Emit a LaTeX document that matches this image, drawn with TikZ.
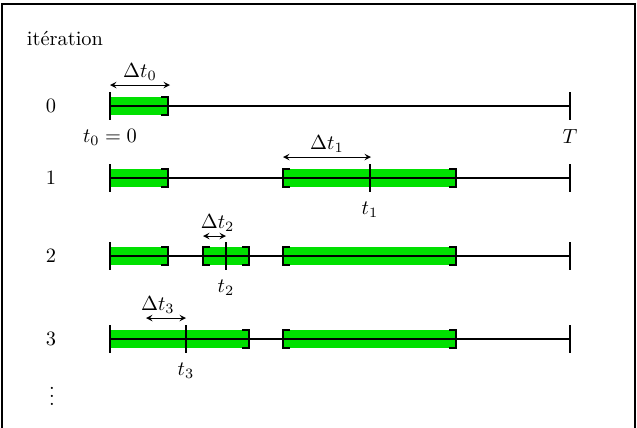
\documentclass[tikz,border=0pt]{standalone}
\usepackage{amssymb,amsmath}
\usepackage{tikz}
\definecolor{vert}{RGB}{0,224,0}

\begin{document}
\begin{tikzpicture}[x=0.49pt,y=-0.49pt,
    zone/.style={fill=vert,draw=none},
    axe/.style={line width=0.6pt},
    marque/.style={line width=0.7pt},
    duree/.style={<->,>=stealth,line width=0.4pt}]
\useasboundingbox (0,0) rectangle (637,428);
% Frame
\draw[line width=1.2pt] (2,450) -- (2,4) -- (635,4) -- (635,450);

% Iteration numbers
\node (titre) at (65,38) {itération};
\foreach \k/\y in {0/106,1/178,2/256,3/339}
    \node (it\k) at (51,\y) {$\k$};
\node (suite) at (52,390) {$\vdots$};

% Green intervals
\foreach \a/\b/\y in {110/168/106, 110/168/178, 283/456/178,
                      110/168/256, 203/249/256, 283/456/256,
                      110/249/339, 283/456/339}
    \fill[zone] (\a,\y-9) rectangle (\b,\y+9);

% Time axes, from 0 to T
\foreach \y in {106,178,256,339} {
    \draw[axe] (110,\y) -- (570,\y);
    \draw[marque] (110,\y-14) -- (110,\y+14);
    \draw[marque] (570,\y-14) -- (570,\y+14);
}

% Closing brackets
\foreach \x/\y in {168/106, 168/178, 456/178, 168/256, 249/256,
                   456/256, 249/339, 456/339}
    \draw[marque] (\x-7,\y-9) -- (\x,\y-9) -- (\x,\y+9) -- (\x-7,\y+9);
% Opening brackets
\foreach \x/\y in {283/178, 203/256, 283/256, 283/339}
    \draw[marque] (\x+7,\y-9) -- (\x,\y-9) -- (\x,\y+9) -- (\x+7,\y+9);

% Times t_i
\coordinate (p0) at (110,120);
\coordinate (pT) at (570,120);
\draw[marque] (370,164) -- (370,192) coordinate (p1);
\draw[marque] (226,242) -- (226,270) coordinate (p2);
\draw[marque] (186,325) -- (186,353) coordinate (p3);
\node[below,inner sep=4.5pt] (l0) at (p0) {$t_0 = 0$};
\node[below,inner sep=4.5pt] (lT) at (pT) {$T$};
\node[below,inner sep=4.5pt] (l1) at (p1) {$t_1$};
\node[below,inner sep=4.5pt] (l2) at (p2) {$t_2$};
\node[below,inner sep=4.5pt] (l3) at (p3) {$t_3$};

% Steps
\coordinate (d0a) at (110,85);  \coordinate (d0b) at (170,85);
\coordinate (d1a) at (283,157); \coordinate (d1b) at (371,157);
\coordinate (d2a) at (203,236); \coordinate (d2b) at (226,236);
\coordinate (d3a) at (146,318); \coordinate (d3b) at (186,318);
\draw[duree] (d0a) -- (d0b) node[midway,above,inner sep=2pt] (dt0) {$\Delta t_0$};
\draw[duree] (d1a) -- (d1b) node[midway,above,inner sep=2pt] (dt1) {$\Delta t_1$};
\draw[duree] (d2a) -- (d2b) node[midway,above,inner sep=2pt,xshift=1.5pt] (dt2) {$\Delta t_2$};
\draw[duree] (d3a) -- (d3b) node[midway,above,inner sep=2pt,xshift=-4pt] (dt3) {$\Delta t_3$};
\end{tikzpicture}
\end{document}
